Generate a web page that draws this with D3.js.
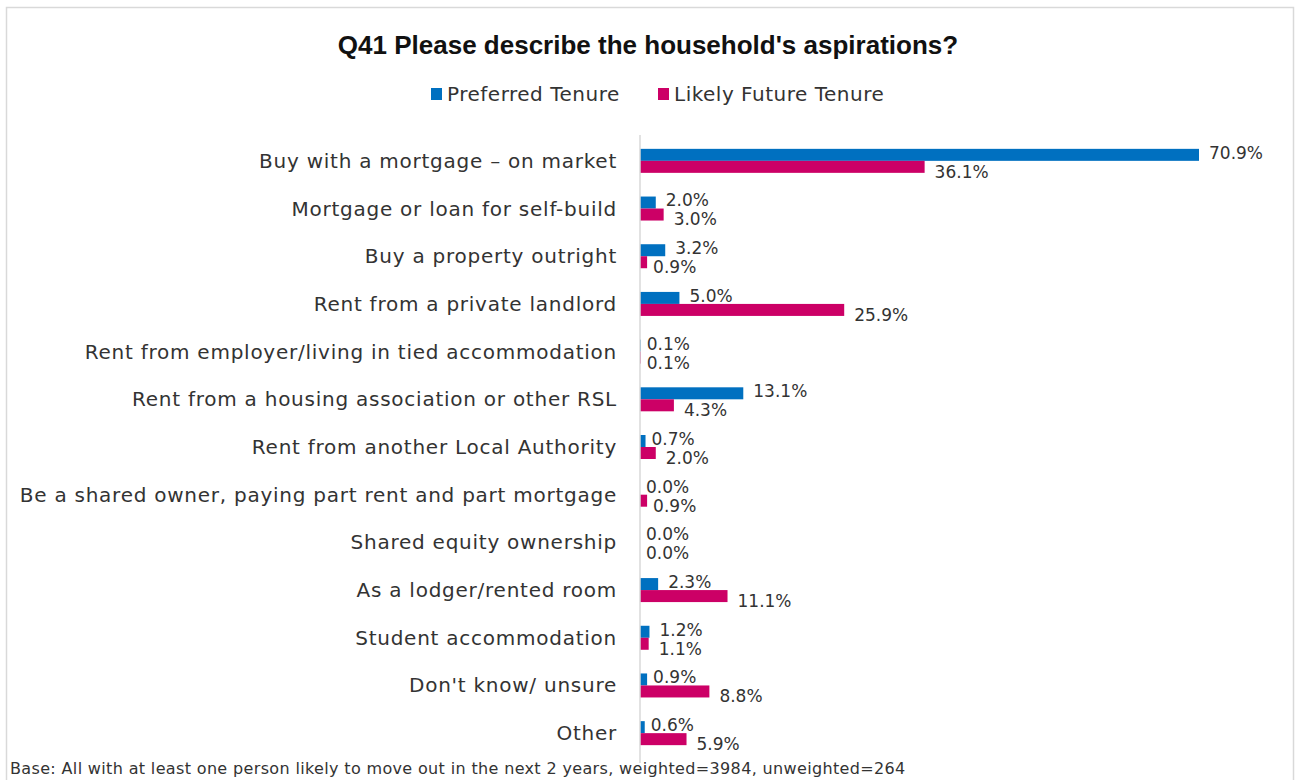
<!DOCTYPE html>
<html>
<head>
<meta charset="utf-8">
<script src="https://cdn.jsdelivr.net/npm/d3@7"></script>
<style>
  body { margin: 0; background: #fff; }
  svg { display: block; font-family: "DejaVu Sans", sans-serif; }
  .cat-label { font-size: 20px; letter-spacing: 0.75px; fill: #333; }
  .val-label { font-size: 17px; fill: #333; }
  .legend-label { font-size: 20px; letter-spacing: 0.5px; fill: #333; }
</style>
</head>
<body>
<div id="chart"></div>
<script>
// ---------- Data ----------
const categories = [
  "Buy with a mortgage \u2013 on market",
  "Mortgage or loan for self-build",
  "Buy a property outright",
  "Rent from a private landlord",
  "Rent from employer/living in tied accommodation",
  "Rent from a housing association or other RSL",
  "Rent from another Local Authority",
  "Be a shared owner, paying part rent and part mortgage",
  "Shared equity ownership",
  "As a lodger/rented room",
  "Student accommodation",
  "Don't know/ unsure",
  "Other"
];

const seriesNames = ["Preferred Tenure", "Likely Future Tenure"];

const preferredTenure = [70.9, 2.0, 3.2, 5.0, 0.1, 13.1, 0.7, 0.0, 0.0, 2.3, 1.2, 0.9, 0.6];
const likelyFutureTenure = [36.1, 3.0, 0.9, 25.9, 0.1, 4.3, 2.0, 0.9, 0.0, 11.1, 1.1, 8.8, 5.9];

const titleText = "Q41 Please describe the household's aspirations?";
const footnoteText = "Base: All  with at least one person likely to move out in the next 2 years, weighted=3984, unweighted=264";

// ---------- Layout ----------
const width = 1295;
const height = 780;
const axisX = 640;
const plotTop = 137;
const plotBottom = 757;
const colors = ["#0070C0", "#CC0066"];

const rows = categories.map((c, i) => ({
  category: c,
  values: [preferredTenure[i], likelyFutureTenure[i]]
}));

const svg = d3.select("#chart").append("svg")
  .attr("width", width)
  .attr("height", height);

svg.append("rect")
  .attr("width", width).attr("height", height)
  .attr("fill", "#fff");

// chart frame
svg.append("rect")
  .attr("x", 6.5).attr("y", 7.5)
  .attr("width", 1287).attr("height", 800)
  .attr("fill", "none")
  .attr("stroke", "#d9d9d9")
  .attr("stroke-width", 1.5);

// ---------- Scales ----------
const x = d3.scaleLinear()
  .domain([0, 70.9])
  .range([axisX, 1199]);

const y = d3.scaleBand()
  .domain(categories)
  .range([plotTop, plotBottom]);

const ySeries = d3.scaleBand()
  .domain(seriesNames)
  .range([y.bandwidth() / 2 - 12, y.bandwidth() / 2 + 12]);

// ---------- Title ----------
svg.append("text")
  .attr("x", 648)
  .attr("y", 54)
  .attr("text-anchor", "middle")
  .style("font-family", "'Liberation Sans', Arial, sans-serif")
  .style("font-weight", "bold")
  .style("font-size", "26px")
  .style("fill", "#111")
  .text(titleText);

// ---------- Legend ----------
const legendItems = [
  { name: seriesNames[0], x: 431 },
  { name: seriesNames[1], x: 658 }
];

const legend = svg.append("g").attr("class", "legend");

legend.selectAll("rect")
  .data(legendItems)
  .enter()
  .append("rect")
  .attr("x", d => d.x)
  .attr("y", 88)
  .attr("width", 11)
  .attr("height", 12)
  .attr("fill", (d, i) => colors[i]);

legend.selectAll("text")
  .data(legendItems)
  .enter()
  .append("text")
  .attr("class", "legend-label")
  .attr("x", d => d.x + 16)
  .attr("y", 94)
  .attr("dy", "0.35em")
  .text(d => d.name);

// ---------- Bars ----------
const groups = svg.append("g")
  .selectAll("g")
  .data(rows)
  .enter()
  .append("g")
  .attr("transform", d => `translate(0,${y(d.category)})`);

groups.selectAll("rect")
  .data(d => d.values.map((v, i) => ({ series: seriesNames[i], value: v, i })))
  .enter()
  .append("rect")
  .attr("x", x(0))
  .attr("y", d => ySeries(d.series))
  .attr("width", d => x(d.value) - x(0))
  .attr("height", ySeries.bandwidth())
  .attr("fill", d => colors[d.i]);

groups.selectAll("text.val-label")
  .data(d => d.values.map((v, i) => ({ series: seriesNames[i], value: v, i })))
  .enter()
  .append("text")
  .attr("class", "val-label")
  .attr("x", d => x(d.value) + (d.value < 1 ? 6 : 10))
  .attr("y", d => ySeries(d.series) + ySeries.bandwidth() / 2 + (d.i === 0 ? -2 : 5))
  .attr("dy", "0.35em")
  .text(d => d.value.toFixed(1) + "%");

// ---------- Category axis ----------
svg.append("line")
  .attr("x1", axisX).attr("x2", axisX)
  .attr("y1", plotTop - 2).attr("y2", plotBottom + 6)
  .attr("stroke", "#d9d9d9")
  .attr("stroke-width", 1.5);

svg.append("g")
  .selectAll("text")
  .data(categories)
  .enter()
  .append("text")
  .attr("class", "cat-label")
  .attr("x", 617)
  .attr("y", d => y(d) + y.bandwidth() / 2)
  .attr("dy", "0.35em")
  .attr("text-anchor", "end")
  .text(d => d);

// ---------- Footnote ----------
svg.append("text")
  .attr("x", 10)
  .attr("y", 774)
  .style("font-size", "16px")
  .style("letter-spacing", "0.35px")
  .style("fill", "#333")
  .text(footnoteText);
</script>
</body>
</html>
